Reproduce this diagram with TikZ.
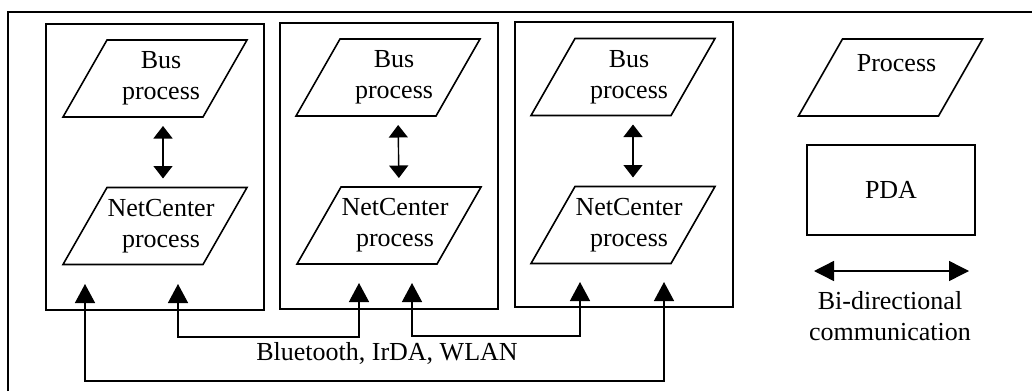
\documentclass[tikz,border=0pt]{standalone}
\usepackage{fontspec}
\setmainfont{Liberation Serif}
\usetikzlibrary{arrows.meta,calc}

\tikzset{
  txt/.style={font=\fontsize{26}{31}\selectfont, align=center, inner sep=0pt},
  holder/.style={draw, line width=1.5pt, inner sep=0pt},
  parashape/.style={minimum width=140pt, minimum height=77pt, inner sep=0pt, outer sep=0pt},
  paraline/.style={draw, line width=1.6pt, line join=miter},
  inner link/.style={line width=1.4pt, {Triangle[length=12.5pt,width=19pt]}-{Triangle[length=12.5pt,width=19pt]},
                     shorten <=9pt, shorten >=9pt},
  radio link/.style={line width=1.4pt, {Triangle[length=19pt,width=20pt]}-{Triangle[length=19pt,width=20pt]}},
  legend link/.style={line width=1.4pt, {Triangle[length=20pt,width=20pt]}-{Triangle[length=20pt,width=20pt]}},
}

\newcommand\drawpara[1]{%
  \draw[paraline] ([xshift=22pt]#1.north west) -- ([xshift=22pt]#1.north east)
    -- ([xshift=-22pt]#1.south east) -- ([xshift=-22pt]#1.south west) -- cycle;}

\begin{document}
\begin{tikzpicture}[x=1pt, y=-1pt]
\useasboundingbox (0,0) rectangle (1032,391);

% outer frame (open towards the right and bottom page edges)
\draw[line width=2pt] (8,391) -- (8,12) -- (1032,12);

% the three PDAs
\node[holder, minimum width=218pt, minimum height=286pt] (pda1) at (155,167) {};
\node[holder, minimum width=218pt, minimum height=286pt] (pda2) at (389,166) {};
\node[holder, minimum width=218pt, minimum height=285pt] (pda3) at (624,164.5) {};

% process shapes
\node[parashape] (b1) at (155,78.5) {};
\node[parashape] (n1) at (155,226) {};
\node[parashape] (b2) at (388,77.5) {};
\node[parashape] (n2) at (389,225.5) {};
\node[parashape] (b3) at (623,77) {};
\node[parashape] (n3) at (623,225) {};
\node[parashape] (proc) at (890.5,77.5) {};
\foreach \s in {b1,n1,b2,n2,b3,n3,proc} {\drawpara{\s}}

\node[txt] (b1t) at ([xshift=6pt]b1.center) {Bus\\process};
\node[txt] (n1t) at ([xshift=6pt]n1.center) {NetCenter\\process};
\node[txt] (b2t) at ([xshift=6pt]b2.center) {Bus\\process};
\node[txt] (n2t) at ([xshift=6pt]n2.center) {NetCenter\\process};
\node[txt] (b3t) at ([xshift=6pt]b3.center) {Bus\\process};
\node[txt] (n3t) at ([xshift=6pt]n3.center) {NetCenter\\process};
\node[txt] (proct) at ([xshift=6pt,yshift=14pt]proc.center) {Process};

% bus <-> NetCenter inside each PDA
\draw[inner link] ([xshift=8pt]b1.south) -- ([xshift=8pt]n1.north);
\draw[inner link] ([xshift=10pt]b2.south) -- ([xshift=10pt]n2.north);
\draw[inner link] ([xshift=10pt]b3.south) -- ([xshift=10pt]n3.north);

% wireless links between PDAs
\coordinate (t1a) at (85,284);
\coordinate (t1b) at (178,284);
\coordinate (t2a) at (359,283);
\coordinate (t2b) at (412,283);
\coordinate (t3a) at (580,282);
\coordinate (t3b) at (664,282);
\draw[radio link] (t1b) -- ++(0,53) -| (t2a);
\draw[radio link] (t2b) -- ++(0,53) -| (t3a);
\draw[radio link] (t1a) -- ++(0,97) -| (t3b);
\node[txt] (radio) at (387,353) {Bluetooth, IrDA, WLAN};

% legend
\node[draw, line width=1.5pt, minimum width=168pt, minimum height=90pt, txt] (pda) at (891,190) {PDA};
\coordinate (la) at (814,271);
\coordinate (lb) at (969,271);
\draw[legend link] (la) -- (lb);
\node[txt] (bidir) at (890,316) {Bi-directional\\communication};
\end{tikzpicture}
\end{document}
